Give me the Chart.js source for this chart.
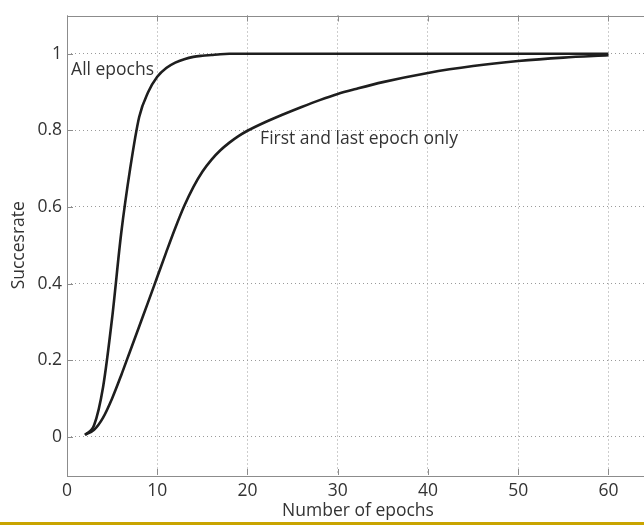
<!DOCTYPE html>
<html>
<head>
<meta charset="utf-8">
<script src="https://cdn.jsdelivr.net/npm/chart.js@4"></script>
<style>
  html, body { margin: 0; padding: 0; background: #fff; overflow: hidden; }
  #wrap { width: 644px; height: 525px; overflow: hidden; position: relative; }
  #bar { position: absolute; left: 0; top: 522px; width: 644px; height: 3px; background: #c9a400; }
</style>
</head>
<body>
<div id="wrap">
  <canvas id="chart" width="652" height="522"></canvas>
  <div id="bar"></div>
</div>
<script>
// values
const epochs = [2, 3, 4, 5, 6, 7, 8, 9, 10, 11, 12, 13, 14, 15, 16, 17, 18, 19, 20,
                22, 24, 26, 28, 30, 32, 35, 40, 45, 50, 55, 60];
const allEpochs = [0.005, 0.03, 0.13, 0.31, 0.53, 0.70, 0.835, 0.90, 0.94, 0.963, 0.977, 0.986, 0.992, 0.995, 0.997, 0.999, 1, 1, 1,
                   1, 1, 1, 1, 1, 1, 1, 1, 1, 1, 1, 1];
const firstLast = [0.005, 0.018, 0.05, 0.10, 0.16, 0.224, 0.288, 0.352, 0.417, 0.482, 0.545, 0.603, 0.652, 0.692, 0.723, 0.748, 0.768, 0.785, 0.799,
                   0.822, 0.842, 0.861, 0.879, 0.895, 0.908, 0.926, 0.95, 0.968, 0.981, 0.99, 0.996];
const xTicks = [0, 10, 20, 30, 40, 50, 60];
const yTicks = [0, 0.2, 0.4, 0.6, 0.8, 1];

const FONT = "'Open Sans', sans-serif";
const FS = 17.5;

// matlab style box, inward ticks and curve labels
const boxPlugin = {
  id: 'box',
  afterDatasetsDraw(chart) {
    const ctx = chart.ctx;
    const a = chart.chartArea;
    const xs = chart.scales.x, ys = chart.scales.y;
    ctx.save();
    ctx.strokeStyle = '#8c8c8c';
    ctx.lineWidth = 1;
    ctx.strokeRect(Math.round(a.left) + 0.5, Math.round(a.top) + 0.5,
                   Math.round(a.right - a.left), Math.round(a.bottom - a.top));
    ctx.beginPath();
    xTicks.forEach(v => {
      const px = Math.round(xs.getPixelForValue(v)) + 0.5;
      ctx.moveTo(px, a.bottom); ctx.lineTo(px, a.bottom - 6);
      ctx.moveTo(px, a.top); ctx.lineTo(px, a.top + 6);
    });
    yTicks.forEach(v => {
      const py = Math.round(ys.getPixelForValue(v)) + 0.5;
      ctx.moveTo(a.left, py); ctx.lineTo(a.left + 6, py);
    });
    ctx.stroke();

    ctx.fillStyle = '#333';
    ctx.font = FS + 'px ' + FONT;
    ctx.textBaseline = 'middle';
    ctx.textAlign = 'left';
    ctx.fillText('All epochs', xs.getPixelForValue(0.45), ys.getPixelForValue(0.958));
    ctx.fillText('First and last epoch only', xs.getPixelForValue(21.4), ys.getPixelForValue(0.777));
    ctx.restore();
  }
};

const ctx = document.getElementById('chart').getContext('2d');
new Chart(ctx, {
  type: 'line',
  data: {
    datasets: [{
      label: 'All epochs',
      data: epochs.map((e, i) => ({ x: e, y: allEpochs[i] })),
      borderColor: '#1e1e1e',
      borderWidth: 2.6,
      pointRadius: 0,
      cubicInterpolationMode: 'monotone'
    }, {
      label: 'First and last epoch only',
      data: epochs.map((e, i) => ({ x: e, y: firstLast[i] })),
      borderColor: '#1e1e1e',
      borderWidth: 2.6,
      pointRadius: 0,
      cubicInterpolationMode: 'monotone'
    }]
  },
  options: {
    responsive: false,
    animation: false,
    layout: { padding: { top: 13, right: 3, left: 0, bottom: 0 } },
    plugins: { legend: { display: false }, tooltip: { enabled: false } },
    scales: {
      x: {
        type: 'linear',
        min: 0,
        max: 64.5,
        afterBuildTicks: s => { s.ticks = xTicks.map(v => ({ value: v })); },
        afterFit: s => { s.height = 47; },
        grid: { color: '#9a9a9a', drawTicks: false, lineWidth: 1 },
        border: { display: false, dash: [1, 3] },
        ticks: { color: '#333', font: { family: FONT, size: FS }, padding: 6, maxRotation: 0 },
        title: { display: true, text: 'Number of epochs', color: '#333', font: { family: FONT, size: FS }, padding: { top: 0, bottom: 0 } }
      },
      y: {
        min: -0.1,
        max: 1.1,
        afterBuildTicks: s => { s.ticks = yTicks.map(v => ({ value: v })); },
        afterFit: s => { s.width = 67; },
        grid: { color: '#9a9a9a', drawTicks: false, lineWidth: 1 },
        border: { display: false, dash: [1, 3] },
        ticks: { color: '#333', font: { family: FONT, size: FS }, padding: 5, callback: v => String(Math.round(v * 10) / 10) },
        title: { display: true, text: 'Succesrate', color: '#333', font: { family: FONT, size: FS }, padding: { top: 9, bottom: 0 } }
      }
    }
  },
  plugins: [boxPlugin]
});
</script>
</body>
</html>
